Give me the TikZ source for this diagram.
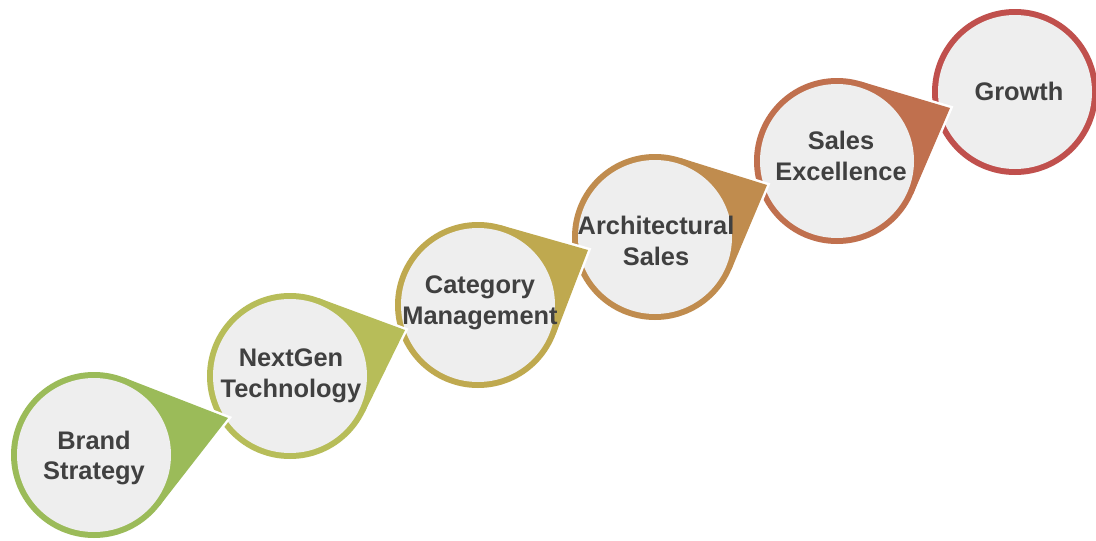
\documentclass[tikz,border=0pt]{standalone}
\usepackage{fontspec}
\setmainfont{Liberation Sans}
\usetikzlibrary{calc}
\definecolor{cA}{HTML}{9BBB59}
\definecolor{cB}{HTML}{B7BD59}
\definecolor{cC}{HTML}{BFA94F}
\definecolor{cD}{HTML}{C08C4E}
\definecolor{cE}{HTML}{C0704E}
\definecolor{cF}{HTML}{C0504D}
\definecolor{fillgray}{HTML}{EEEEEE}
\definecolor{txtgray}{HTML}{404040}
\tikzset{
  geo/.style={circle, minimum size=166pt, inner sep=0pt, outer sep=0pt},
  outline/.style={draw=white, line width=5pt, line join=miter},
  txtstyle/.style={font=\bfseries\fontsize{25.4}{30.5}\selectfont, text=txtgray, align=center, inner sep=0pt},
}
% name, center, tip, colour
\newcommand\dropshape[4]{%
  \path node[geo] (#1) at #2 {};
  \coordinate (#1t) at #3;
  \coordinate (#1a) at (tangent cs:node=#1,point={(#1t)},solution=1);
  \coordinate (#1b) at (tangent cs:node=#1,point={(#1t)},solution=2);
  \path[outline] (#1.center) circle[radius=83pt];
  \path[outline] (#1a) -- (#1t) -- (#1b) -- cycle;
  \fill[#4] (#1.center) circle[radius=83pt];
  \fill[#4] (#1a) -- (#1t) -- (#1b) -- cycle;
  \fill[fillgray] (#1.center) circle[radius=77pt];
}
\newcommand\roundshape[3]{%
  \path node[geo] (#1) at #2 {};
  \path[outline] (#1.center) circle[radius=83pt];
  \fill[#3] (#1.center) circle[radius=83pt];
  \fill[fillgray] (#1.center) circle[radius=77pt];
}
\begin{document}
\begin{tikzpicture}[x=1pt,y=-1pt]
\useasboundingbox[fill=white] (0,0) rectangle (1096,541);
\roundshape{s6}{(1015,92)}{cF}
\dropshape{s5}{(837,161)}{(950,108)}{cE}
\dropshape{s4}{(655,237)}{(767,185)}{cD}
\dropshape{s3}{(478,305)}{(588,250)}{cC}
\dropshape{s2}{(290,376)}{(405,330)}{cB}
\dropshape{s1}{(94,455)}{(228,418)}{cA}
\node[txtstyle] (t1) at ($(s1.center)+(0,3)$) {Brand\\Strategy};
\node[txtstyle] (t2) at ($(s2.center)+(1,0)$) {NextGen\\Technology};
\node[txtstyle] (t3) at ($(s3.center)+(2,-2)$) {Category\\Management};
\node[txtstyle] (t4) at ($(s4.center)+(1,4)$) {Architectural\\Sales};
\node[txtstyle] (t5) at ($(s5.center)+(4,-5)$) {Sales\\Excellence};
\node[txtstyle] (t6) at ($(s6.center)+(4,-1)$) {Growth};
\end{tikzpicture}
\end{document}
